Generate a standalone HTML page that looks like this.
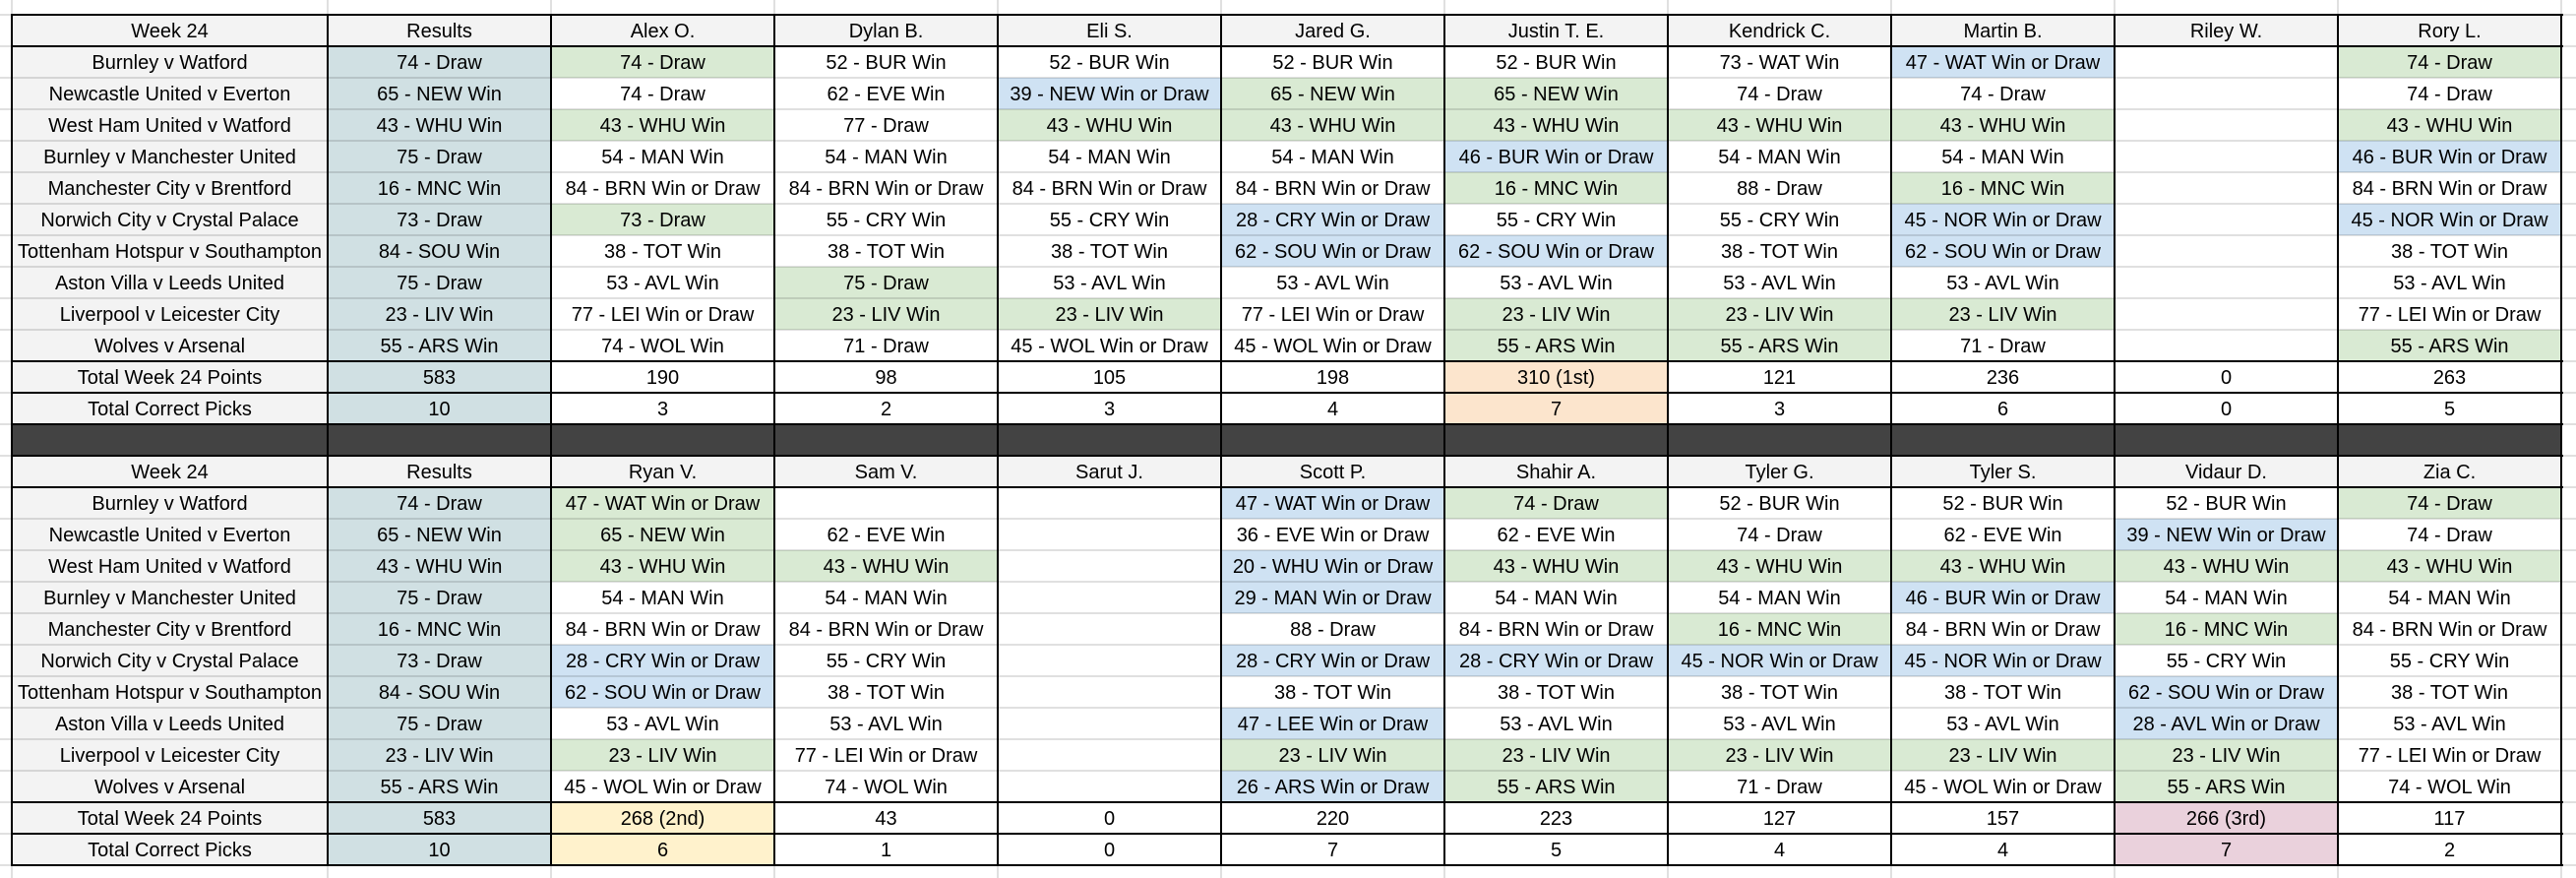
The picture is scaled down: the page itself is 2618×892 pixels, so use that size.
<!DOCTYPE html>
<html><head><meta charset="utf-8">
<style>
html,body{margin:0;padding:0;background:#fff;}
body{width:2618px;height:892px;position:relative;overflow:hidden;font-family:"Liberation Sans",Arial,sans-serif;}
.grid{position:absolute;left:12px;top:15px;display:grid;grid-template-columns:321px repeat(10,227px);grid-template-rows:repeat(27,32px);}
.grid div{font-size:20px;line-height:35px;text-align:center;white-space:nowrap;color:#000;background:#fff;overflow:visible;}
.grid div.h,.grid div.f{background:#f3f3f3;}
.grid div.r{background:#d0e0e3;}
.grid div.g{background:#d9ead3;}
.grid div.b{background:#cfe2f3;}
.grid div.o{background:#fce5cd;}
.grid div.y{background:#fff2cc;}
.grid div.p{background:#ead1dc;}
.grid div.k{background:#434343;}
.gh{position:absolute;left:0;width:2618px;height:2px;background:rgba(0,0,0,0.12);}
.gv{position:absolute;top:0;height:892px;width:2px;background:rgba(0,0,0,0.12);}
.bh{position:absolute;left:11px;width:2594px;height:2px;background:#000;}
.bv{position:absolute;top:14px;height:866px;width:2px;background:#000;}
</style></head><body>
<div class="grid">
<!-- Table 1 header -->
<div class="h">Week 24</div><div class="h">Results</div><div class="h">Alex O.</div><div class="h">Dylan B.</div><div class="h">Eli S.</div><div class="h">Jared G.</div><div class="h">Justin T. E.</div><div class="h">Kendrick C.</div><div class="h">Martin B.</div><div class="h">Riley W.</div><div class="h">Rory L.</div>
<!-- R1 -->
<div class="f">Burnley v Watford</div><div class="r">74 - Draw</div><div class="g">74 - Draw</div><div>52 - BUR Win</div><div>52 - BUR Win</div><div>52 - BUR Win</div><div>52 - BUR Win</div><div>73 - WAT Win</div><div class="b">47 - WAT Win or Draw</div><div></div><div class="g">74 - Draw</div>
<!-- R2 -->
<div class="f">Newcastle United v Everton</div><div class="r">65 - NEW Win</div><div>74 - Draw</div><div>62 - EVE Win</div><div class="b">39 - NEW Win or Draw</div><div class="g">65 - NEW Win</div><div class="g">65 - NEW Win</div><div>74 - Draw</div><div>74 - Draw</div><div></div><div>74 - Draw</div>
<!-- R3 -->
<div class="f">West Ham United v Watford</div><div class="r">43 - WHU Win</div><div class="g">43 - WHU Win</div><div>77 - Draw</div><div class="g">43 - WHU Win</div><div class="g">43 - WHU Win</div><div class="g">43 - WHU Win</div><div class="g">43 - WHU Win</div><div class="g">43 - WHU Win</div><div></div><div class="g">43 - WHU Win</div>
<!-- R4 -->
<div class="f">Burnley v Manchester United</div><div class="r">75 - Draw</div><div>54 - MAN Win</div><div>54 - MAN Win</div><div>54 - MAN Win</div><div>54 - MAN Win</div><div class="b">46 - BUR Win or Draw</div><div>54 - MAN Win</div><div>54 - MAN Win</div><div></div><div class="b">46 - BUR Win or Draw</div>
<!-- R5 -->
<div class="f">Manchester City v Brentford</div><div class="r">16 - MNC Win</div><div>84 - BRN Win or Draw</div><div>84 - BRN Win or Draw</div><div>84 - BRN Win or Draw</div><div>84 - BRN Win or Draw</div><div class="g">16 - MNC Win</div><div>88 - Draw</div><div class="g">16 - MNC Win</div><div></div><div>84 - BRN Win or Draw</div>
<!-- R6 -->
<div class="f">Norwich City v Crystal Palace</div><div class="r">73 - Draw</div><div class="g">73 - Draw</div><div>55 - CRY Win</div><div>55 - CRY Win</div><div class="b">28 - CRY Win or Draw</div><div>55 - CRY Win</div><div>55 - CRY Win</div><div class="b">45 - NOR Win or Draw</div><div></div><div class="b">45 - NOR Win or Draw</div>
<!-- R7 -->
<div class="f">Tottenham Hotspur v Southampton</div><div class="r">84 - SOU Win</div><div>38 - TOT Win</div><div>38 - TOT Win</div><div>38 - TOT Win</div><div class="b">62 - SOU Win or Draw</div><div class="b">62 - SOU Win or Draw</div><div>38 - TOT Win</div><div class="b">62 - SOU Win or Draw</div><div></div><div>38 - TOT Win</div>
<!-- R8 -->
<div class="f">Aston Villa v Leeds United</div><div class="r">75 - Draw</div><div>53 - AVL Win</div><div class="g">75 - Draw</div><div>53 - AVL Win</div><div>53 - AVL Win</div><div>53 - AVL Win</div><div>53 - AVL Win</div><div>53 - AVL Win</div><div></div><div>53 - AVL Win</div>
<!-- R9 -->
<div class="f">Liverpool v Leicester City</div><div class="r">23 - LIV Win</div><div>77 - LEI Win or Draw</div><div class="g">23 - LIV Win</div><div class="g">23 - LIV Win</div><div>77 - LEI Win or Draw</div><div class="g">23 - LIV Win</div><div class="g">23 - LIV Win</div><div class="g">23 - LIV Win</div><div></div><div>77 - LEI Win or Draw</div>
<!-- R10 -->
<div class="f">Wolves v Arsenal</div><div class="r">55 - ARS Win</div><div>74 - WOL Win</div><div>71 - Draw</div><div>45 - WOL Win or Draw</div><div>45 - WOL Win or Draw</div><div class="g">55 - ARS Win</div><div class="g">55 - ARS Win</div><div>71 - Draw</div><div></div><div class="g">55 - ARS Win</div>
<!-- Totals -->
<div class="f">Total Week 24 Points</div><div class="r">583</div><div>190</div><div>98</div><div>105</div><div>198</div><div class="o">310 (1st)</div><div>121</div><div>236</div><div>0</div><div>263</div>
<div class="f">Total Correct Picks</div><div class="r">10</div><div>3</div><div>2</div><div>3</div><div>4</div><div class="o">7</div><div>3</div><div>6</div><div>0</div><div>5</div>
<!-- Dark separator -->
<div class="k"></div><div class="k"></div><div class="k"></div><div class="k"></div><div class="k"></div><div class="k"></div><div class="k"></div><div class="k"></div><div class="k"></div><div class="k"></div><div class="k"></div>
<!-- Table 2 header -->
<div class="h">Week 24</div><div class="h">Results</div><div class="h">Ryan V.</div><div class="h">Sam V.</div><div class="h">Sarut J.</div><div class="h">Scott P.</div><div class="h">Shahir A.</div><div class="h">Tyler G.</div><div class="h">Tyler S.</div><div class="h">Vidaur D.</div><div class="h">Zia C.</div>
<!-- R1 -->
<div class="f">Burnley v Watford</div><div class="r">74 - Draw</div><div class="g">47 - WAT Win or Draw</div><div></div><div></div><div class="b">47 - WAT Win or Draw</div><div class="g">74 - Draw</div><div>52 - BUR Win</div><div>52 - BUR Win</div><div>52 - BUR Win</div><div class="g">74 - Draw</div>
<!-- R2 -->
<div class="f">Newcastle United v Everton</div><div class="r">65 - NEW Win</div><div class="g">65 - NEW Win</div><div>62 - EVE Win</div><div></div><div>36 - EVE Win or Draw</div><div>62 - EVE Win</div><div>74 - Draw</div><div>62 - EVE Win</div><div class="b">39 - NEW Win or Draw</div><div>74 - Draw</div>
<!-- R3 -->
<div class="f">West Ham United v Watford</div><div class="r">43 - WHU Win</div><div class="g">43 - WHU Win</div><div class="g">43 - WHU Win</div><div></div><div class="b">20 - WHU Win or Draw</div><div class="g">43 - WHU Win</div><div class="g">43 - WHU Win</div><div class="g">43 - WHU Win</div><div class="g">43 - WHU Win</div><div class="g">43 - WHU Win</div>
<!-- R4 -->
<div class="f">Burnley v Manchester United</div><div class="r">75 - Draw</div><div>54 - MAN Win</div><div>54 - MAN Win</div><div></div><div class="b">29 - MAN Win or Draw</div><div>54 - MAN Win</div><div>54 - MAN Win</div><div class="b">46 - BUR Win or Draw</div><div>54 - MAN Win</div><div>54 - MAN Win</div>
<!-- R5 -->
<div class="f">Manchester City v Brentford</div><div class="r">16 - MNC Win</div><div>84 - BRN Win or Draw</div><div>84 - BRN Win or Draw</div><div></div><div>88 - Draw</div><div>84 - BRN Win or Draw</div><div class="g">16 - MNC Win</div><div>84 - BRN Win or Draw</div><div class="g">16 - MNC Win</div><div>84 - BRN Win or Draw</div>
<!-- R6 -->
<div class="f">Norwich City v Crystal Palace</div><div class="r">73 - Draw</div><div class="b">28 - CRY Win or Draw</div><div>55 - CRY Win</div><div></div><div class="b">28 - CRY Win or Draw</div><div class="b">28 - CRY Win or Draw</div><div class="b">45 - NOR Win or Draw</div><div class="b">45 - NOR Win or Draw</div><div>55 - CRY Win</div><div>55 - CRY Win</div>
<!-- R7 -->
<div class="f">Tottenham Hotspur v Southampton</div><div class="r">84 - SOU Win</div><div class="b">62 - SOU Win or Draw</div><div>38 - TOT Win</div><div></div><div>38 - TOT Win</div><div>38 - TOT Win</div><div>38 - TOT Win</div><div>38 - TOT Win</div><div class="b">62 - SOU Win or Draw</div><div>38 - TOT Win</div>
<!-- R8 -->
<div class="f">Aston Villa v Leeds United</div><div class="r">75 - Draw</div><div>53 - AVL Win</div><div>53 - AVL Win</div><div></div><div class="b">47 - LEE Win or Draw</div><div>53 - AVL Win</div><div>53 - AVL Win</div><div>53 - AVL Win</div><div class="b">28 - AVL Win or Draw</div><div>53 - AVL Win</div>
<!-- R9 -->
<div class="f">Liverpool v Leicester City</div><div class="r">23 - LIV Win</div><div class="g">23 - LIV Win</div><div>77 - LEI Win or Draw</div><div></div><div class="g">23 - LIV Win</div><div class="g">23 - LIV Win</div><div class="g">23 - LIV Win</div><div class="g">23 - LIV Win</div><div class="g">23 - LIV Win</div><div>77 - LEI Win or Draw</div>
<!-- R10 -->
<div class="f">Wolves v Arsenal</div><div class="r">55 - ARS Win</div><div>45 - WOL Win or Draw</div><div>74 - WOL Win</div><div></div><div class="b">26 - ARS Win or Draw</div><div class="g">55 - ARS Win</div><div>71 - Draw</div><div>45 - WOL Win or Draw</div><div class="g">55 - ARS Win</div><div>74 - WOL Win</div>
<!-- Totals -->
<div class="f">Total Week 24 Points</div><div class="r">583</div><div class="y">268 (2nd)</div><div>43</div><div>0</div><div>220</div><div>223</div><div>127</div><div>157</div><div class="p">266 (3rd)</div><div>117</div>
<div class="f">Total Correct Picks</div><div class="r">10</div><div class="y">6</div><div>1</div><div>0</div><div>7</div><div>5</div><div>4</div><div>4</div><div class="p">7</div><div>2</div>
</div>

<!-- sheet gridlines (horizontal) -->
<div class="gh" style="top:14px"></div><div class="gh" style="top:46px"></div><div class="gh" style="top:78px"></div><div class="gh" style="top:110px"></div><div class="gh" style="top:142px"></div><div class="gh" style="top:174px"></div><div class="gh" style="top:206px"></div><div class="gh" style="top:238px"></div><div class="gh" style="top:270px"></div><div class="gh" style="top:302px"></div><div class="gh" style="top:334px"></div><div class="gh" style="top:366px"></div><div class="gh" style="top:398px"></div><div class="gh" style="top:430px"></div><div class="gh" style="top:462px"></div><div class="gh" style="top:494px"></div><div class="gh" style="top:526px"></div><div class="gh" style="top:558px"></div><div class="gh" style="top:590px"></div><div class="gh" style="top:622px"></div><div class="gh" style="top:654px"></div><div class="gh" style="top:686px"></div><div class="gh" style="top:718px"></div><div class="gh" style="top:750px"></div><div class="gh" style="top:782px"></div><div class="gh" style="top:814px"></div><div class="gh" style="top:846px"></div><div class="gh" style="top:878px"></div>
<!-- sheet gridlines (vertical) -->
<div class="gv" style="left:11px"></div><div class="gv" style="left:332px"></div><div class="gv" style="left:559px"></div><div class="gv" style="left:786px"></div><div class="gv" style="left:1013px"></div><div class="gv" style="left:1240px"></div><div class="gv" style="left:1467px"></div><div class="gv" style="left:1694px"></div><div class="gv" style="left:1921px"></div><div class="gv" style="left:2148px"></div><div class="gv" style="left:2375px"></div><div class="gv" style="left:2602px"></div>

<!-- black borders horizontal -->
<div class="bh" style="top:14px"></div><div class="bh" style="top:46px"></div><div class="bh" style="top:366px"></div><div class="bh" style="top:398px"></div><div class="bh" style="top:430px"></div><div class="bh" style="top:462px"></div><div class="bh" style="top:494px"></div><div class="bh" style="top:814px"></div><div class="bh" style="top:846px"></div><div class="bh" style="top:878px"></div>
<!-- black borders vertical -->
<div class="bv" style="left:11px"></div><div class="bv" style="left:332px"></div><div class="bv" style="left:559px"></div><div class="bv" style="left:786px"></div><div class="bv" style="left:1013px"></div><div class="bv" style="left:1240px"></div><div class="bv" style="left:1467px"></div><div class="bv" style="left:1694px"></div><div class="bv" style="left:1921px"></div><div class="bv" style="left:2148px"></div><div class="bv" style="left:2375px"></div><div class="bv" style="left:2602px"></div>
</body></html>
